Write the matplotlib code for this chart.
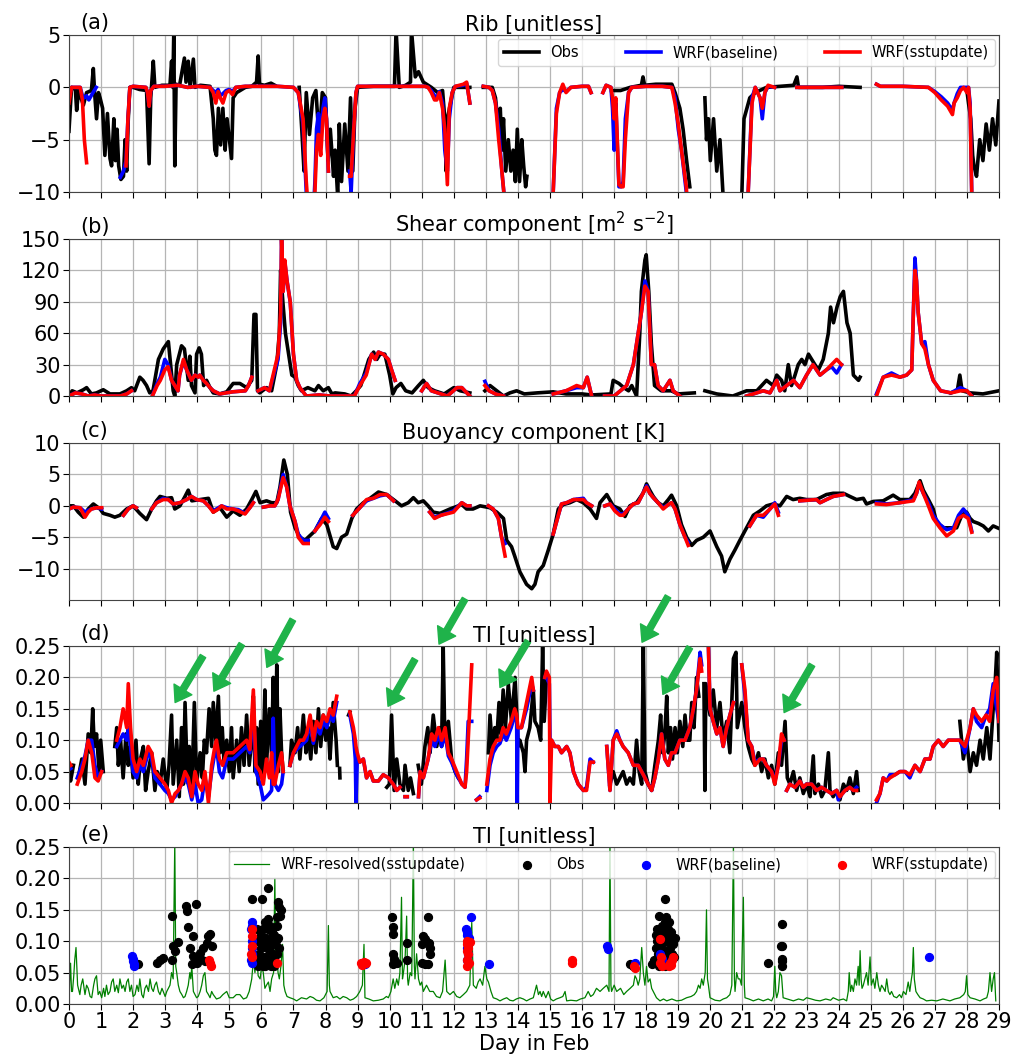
import numpy as np
import matplotlib
matplotlib.use('Agg')
import matplotlib.pyplot as plt

nan = np.nan

day_ticks = list(range(0, 30))

# (day, value) pairs; nan marks a gap in the record
rib_obs = [
    (0.0, -4.2), (0.08, 0), (0.2, -0.2), (0.24, -2.2), (0.3, -0.3), (0.45, -1.7), (0.55, -0.5),
    (0.7, -0.3), (0.76, 1.8), (0.8, -0.5), (0.86, -3), (0.92, -0.5), (0.97, -1), (1.05, -2),
    (1.12, -6.5), (1.2, -2.5), (1.28, -6.8), (1.33, -7.5), (1.4, -3), (1.45, -7), (1.5, -4),
    (1.55, -7.5), (1.62, -8.8), (1.7, -8.5), (1.75, -5), (1.8, -8), (1.85, -3), (1.9, 0),
    (2.0, 0), (2.2, -0.2), (2.42, -0.3), (2.5, -7.3), (2.55, -1), (2.63, 2.5), (2.68, 0),
    (2.9, 0.2), (3.15, 0.2), (3.2, 2.5), (3.24, 0), (3.27, 5.5), (3.3, -7.5), (3.34, 0.3),
    (3.45, 0.2), (3.6, 2.8), (3.65, 0.5), (3.72, 2.5), (3.78, 0), (3.88, 2.7), (3.93, 0),
    (4.1, 0.2), (4.4, 0.1), (4.5, -3), (4.55, -6), (4.6, -6.5), (4.66, -2), (4.73, -5.5),
    (4.8, -2), (4.87, -6), (4.93, -3), (5.07, -6.8), (5.12, -1), (5.23, -0.5), (5.5, 0),
    (5.7, 0.1), (5.85, 0.5), (5.9, 3), (5.94, 0.3), (6.1, 0.2), (6.3, 0.4), (6.42, 0.2), (6.45, nan),
    (7.18, 0), (7.26, -4), (7.33, -8), (7.4, -0.5), (7.5, -4.5), (7.6, -1), (7.7, -0.3),
    (7.8, -5), (7.9, -0.5), (8.0, -1), (8.08, -7), (8.15, -4), (8.25, -8.5), (8.3, -6),
    (8.38, -10.5), (8.43, -3.5), (8.5, -9), (8.6, -3.5), (8.7, -8), (8.78, -1), (8.85, -8),
    (8.92, -2), (9.0, 0), (9.5, 0.1), (10.15, 0.1), (10.2, 5.5), (10.3, 0), (10.5, 0.2),
    (10.65, 0.5), (10.68, 5.5), (10.8, 1), (10.9, 1.5), (11.05, 0.5), (11.3, 0), (11.5, -0.5),
    (11.65, -0.3), (11.72, -3), (11.76, -8), (11.8, -3), (11.9, -1.5), (12.0, 0), (12.5, 0), (12.55, nan),
    (12.92, 0), (13.2, 0), (13.3, -1), (13.4, -4), (13.45, -2), (13.5, -6), (13.55, -3),
    (13.62, -8), (13.7, -5), (13.78, -8), (13.85, -6), (13.92, -9), (13.98, -4), (14.05, -9),
    (14.12, -5), (14.18, -7.5), (14.24, -9.5), (14.28, -8.5), (14.3, nan),
    (16.92, -0.3), (17.2, -0.3), (17.5, 0), (17.85, 0.2), (17.9, 1), (17.95, 0.2), (18.3, 0.3),
    (18.8, 0.3), (18.9, -0.5), (19.05, -2), (19.15, -4), (19.26, -7), (19.36, -9.5), (19.4, nan),
    (19.83, -1), (19.88, -5), (19.94, -3), (20.0, -7), (20.1, -3), (20.2, -8), (20.3, -5),
    (20.4, -10.5), (20.5, -10.5), (20.55, nan),
    (20.98, -10.5), (21.05, -3), (21.23, -1), (21.4, -0.5), (21.75, 0), (22.6, 0.2), (22.7, 1),
    (22.75, 0), (23.5, 0), (24.0, 0.1), (24.67, 0), (24.7, nan),
    (28.0, -0.3), (28.05, -1.5), (28.12, -3), (28.18, -6.5), (28.22, -7.5), (28.3, -8.5),
    (28.4, -5), (28.5, -7), (28.6, -3.5), (28.7, -6), (28.8, -3), (28.9, -5.5), (29.0, -1.3),
]

# (day, baseline, sstupdate)
rib_wrf = [
    (0.0, -1.0, -1.5), (0.08, 0, 0), (0.35, 0, 0), (0.42, -0.8, -1.2), (0.48, -1.0, -5.0),
    (0.55, -0.8, -7.2), (0.62, -1.2, nan), (0.75, -0.5, nan), (0.85, 0, nan), (0.9, nan, nan),
    (1.6, -8.6, nan), (1.7, -8.0, nan), (1.78, -7.0, -7.5), (1.84, -3.0, -3.0), (1.9, 0, 0),
    (2.0, 0.1, 0.1), (2.4, 0, 0), (2.45, -0.5, -0.5), (2.5, -1.8, -1.8), (2.55, -0.3, -0.3),
    (2.65, 0.1, 0.1), (3.0, 0.1, 0.1), (3.4, 0.2, 0.2), (3.7, 0, 0), (4.0, 0.1, 0.1),
    (4.4, 0, 0), (4.5, -0.3, -0.5), (4.58, -0.5, -1.5), (4.65, -0.2, -0.4), (4.72, -0.8, -1.0),
    (4.8, -0.6, -1.5), (4.9, -0.3, -0.5), (5.0, -0.2, -0.3), (5.1, -0.4, -0.7), (5.2, 0, 0),
    (5.5, 0.1, 0.1), (6.0, 0.1, 0.1), (6.5, 0.1, 0.1), (7.0, 0, 0), (7.15, -0.5, -0.5),
    (7.3, -3.5, -3.0), (7.4, -10, -9), (7.47, -12, -12), (7.62, -12, -12), (7.67, -9, -10),
    (7.72, -4, -6), (7.78, -2.5, -4.5), (7.85, -5, -6.5), (7.92, -2, -3), (7.98, -1, -2),
    (8.03, -3, -3), (8.09, -8, -8), (8.1, nan, nan),
    (8.75, -8, -8.5), (8.8, -10, -8.5), (8.88, -4, -4), (8.95, -0.5, -0.5), (9.0, 0.1, 0.1),
    (10.0, 0.1, 0.1), (11.1, 0.1, 0.1), (11.2, 0, 0), (11.3, -0.3, -0.5), (11.4, -0.8, -1.2),
    (11.47, -1, -1.2), (11.55, -0.4, -0.5), (11.65, -1.5, -2), (11.72, -6, -4), (11.8, -8, -9.3),
    (11.86, -3, -2), (11.95, -0.5, -0.5), (12.05, 0.1, 0.1), (12.3, 0.2, 0.3), (12.4, 0.4, 0.5),
    (12.45, -0.5, -0.5), (12.5, -1.5, -1.5), (12.52, nan, nan),
    (12.92, 0.1, 0.1), (13.1, 0, 0), (13.2, -0.3, -0.3), (13.3, -1.5, -1.5), (13.4, -4, -5),
    (13.5, -8, -8), (13.56, -10, -10), (13.6, -12, -12), (13.62, nan, nan),
    (15.05, -12, -12), (15.1, -10, -10), (15.2, -2, -2.5), (15.3, -0.5, -0.5), (15.4, -0.2, 0.3),
    (15.5, -0.4, -0.5), (15.65, 0, 0), (16.0, 0.1, 0.1), (16.2, 0.1, 0.1), (16.28, -0.5, -0.5),
    (16.3, nan, nan),
    (16.65, -0.5, -0.5), (16.75, 0.2, 0.2), (16.9, 0, 0), (16.95, -2, -1), (17.0, -6, -3),
    (17.05, -1.5, -1), (17.15, -9.5, -9.3), (17.22, -9.5, -9.5), (17.28, -9, -9.5), (17.35, -3, -5),
    (17.45, -0.5, -0.5), (17.55, 0, 0), (18.0, 0.1, 0.1), (18.5, 0.1, 0.1), (18.8, 0, 0),
    (18.9, -1, -1.5), (19.0, -4, -3.5), (19.1, -6, -6), (19.25, -10, -9.5), (19.3, -12, -12),
    (19.32, nan, nan),
    (21.12, -12, -12), (21.18, -10, -10), (21.3, -1, -1.5), (21.4, 0, 0), (21.55, -1, -1),
    (21.62, -3, -2), (21.7, -0.5, -0.5), (21.8, 0.1, 0.2), (22.0, 0, 0), (22.1, nan, nan),
    (22.7, 0, 0), (23.5, 0, 0), (24.1, 0, 0), (24.15, nan, nan),
    (25.18, 0.3, 0.3), (25.3, 0.1, 0.1), (26.0, 0.1, 0.1), (26.8, 0, 0), (27.0, -0.4, -0.5),
    (27.2, -0.9, -1.2), (27.4, -1.5, -1.8), (27.55, -2.2, -2.6), (27.6, -1.5, -1.5),
    (27.7, -0.6, -1), (27.8, 0, -0.3), (27.9, 0, 0), (28.0, 0, -0.5), (28.05, 0, 0),
    (28.1, -1.5, -2), (28.15, -10, -10), (28.17, -12, -12),
]

shear_obs = [
    (0.0, 0), (0.1, 5), (0.25, 3), (0.45, 6), (0.55, 8), (0.7, 2), (0.86, 3), (1.07, 6),
    (1.28, 2), (1.59, 2), (1.8, 5), (1.95, 8), (2.05, 5), (2.21, 18), (2.31, 15), (2.42, 10),
    (2.52, 3), (2.62, 5), (2.79, 35), (2.94, 45), (3.1, 52), (3.2, 20), (3.25, 5), (3.3, 0),
    (3.36, 30), (3.51, 48), (3.6, 45), (3.72, 15), (3.77, 38), (3.82, 10), (3.93, 3), (3.98, 40),
    (4.06, 46), (4.13, 40), (4.2, 10), (4.29, 15), (4.4, 8), (4.5, 3), (4.7, 2), (4.92, 4),
    (5.12, 12), (5.33, 12), (5.54, 8), (5.7, 15), (5.77, 78), (5.83, 78), (5.88, 5), (5.95, 3),
    (6.16, 8), (6.32, 5), (6.48, 30), (6.56, 60), (6.6, 120), (6.67, 90), (6.75, 60), (6.85, 40),
    (6.95, 20), (7.05, 18), (7.15, 10), (7.25, 5), (7.45, 8), (7.67, 5), (7.78, 10), (7.93, 5),
    (8.09, 8), (8.2, 2), (8.3, 3), (8.6, 2), (8.8, 0), (8.96, 5), (9.1, 10), (9.2, 20),
    (9.35, 35), (9.5, 42), (9.6, 35), (9.7, 40), (9.85, 40), (10.0, 20), (10.1, 2), (10.2, 8),
    (10.35, 12), (10.5, 5), (10.7, 3), (10.9, 10), (11.05, 15), (11.2, 8), (11.4, 5), (11.7, 2),
    (12.0, 8), (12.2, 5), (12.5, 3), (12.6, nan),
    (12.97, 5), (13.13, 10), (13.34, 5), (13.55, 0), (13.75, 3), (13.96, 5), (14.2, 2),
    (14.6, 3), (15.1, 4), (15.5, 2), (16.0, 2), (16.3, 1), (16.9, 2), (16.97, 15), (17.15, 12),
    (17.3, 8), (17.45, 5), (17.55, 10), (17.7, 0), (17.8, 60), (17.85, 100), (17.96, 130),
    (18.0, 135), (18.08, 100), (18.16, 50), (18.26, 10), (18.47, 5), (18.78, 5), (18.99, 2),
    (19.5, 3), (19.55, nan),
    (19.83, 5), (20.2, 2), (20.7, 0), (21.13, 5), (21.45, 5), (21.75, 15), (21.96, 10),
    (22.07, 20), (22.22, 15), (22.32, 5), (22.43, 30), (22.53, 10), (22.64, 20), (22.74, 30),
    (22.85, 35), (22.95, 30), (23.06, 40), (23.16, 35), (23.26, 30), (23.37, 25), (23.52, 35),
    (23.68, 60), (23.75, 85), (23.84, 70), (23.95, 85), (24.05, 95), (24.15, 100), (24.26, 70),
    (24.36, 60), (24.46, 20), (24.62, 15), (24.67, 18), (24.7, nan),
    (27.5, 3), (27.7, 5), (27.78, 20), (27.85, 5), (28.1, 3), (28.5, 2), (29.0, 5),
]

shear_wrf = [
    (0.0, 0, 0), (0.2, 3, 3), (0.4, 2, 2), (0.6, 0, 0), (0.8, 1, 1), (1.0, 0, 0), (1.6, 0, 0),
    (1.8, 2, 2), (1.95, 5, 5), (2.0, nan, nan),
    (2.6, 0, 0), (2.75, 12, 10), (2.85, 18, 15), (2.99, 35, 25), (3.09, 30, 28), (3.2, 15, 15),
    (3.3, 10, 10), (3.4, 5, 5), (3.45, 20, 20), (3.57, 33, 35), (3.67, 25, 25), (3.82, 15, 15),
    (3.93, 20, 20), (4.03, 18, 18), (4.08, 20, 20), (4.19, 15, 15), (4.29, 12, 12), (4.4, 8, 8),
    (4.5, 5, 5), (4.7, 2, 2), (5.1, 4, 4), (5.5, 5, 5), (5.6, 10, 10), (5.7, 18, 18),
    (5.72, nan, nan),
    (5.9, 5, 5), (6.1, 8, 8), (6.25, 5, 5), (6.52, 35, 40), (6.6, 70, 80), (6.63, 150, 150),
    (6.68, 100, 100), (6.73, 128, 130), (6.8, 110, 110), (6.9, 90, 90), (7.0, 40, 40),
    (7.1, 15, 15), (7.2, 8, 8), (7.4, 0, 0), (7.8, 1, 1), (8.14, 0, 0), (8.9, 0, 0),
    (9.07, 12, 10), (9.27, 22, 20), (9.44, 40, 40), (9.55, 35, 35), (9.65, 42, 42),
    (9.8, 40, 40), (9.96, 35, 35), (10.06, 25, 25), (10.17, 15, 15), (10.2, nan, nan),
    (11.0, 5, 5), (11.15, 12, 12), (11.3, 5, 5), (11.6, 2, 2), (11.8, 0, 0), (12.1, 8, 8),
    (12.25, 8, 8), (12.5, 0, 0), (12.55, nan, nan),
    (12.97, 14, 10), (13.1, 5, 5), (13.3, 2, 2), (13.55, 0, 0), (13.6, nan, nan),
    (15.1, 2, 2), (15.5, 5, 5), (15.83, 8, 10), (16.04, 8, 8), (16.16, 18, 18), (16.3, 0, 0),
    (16.32, nan, nan),
    (16.7, 0, 0), (17.0, 0, 0), (17.39, 10, 10), (17.6, 30, 30), (17.75, 60, 60), (17.85, 80, 80),
    (17.96, 110, 105), (18.06, 100, 100), (18.16, 30, 30), (18.26, 30, 30), (18.37, 10, 10),
    (18.53, 5, 5), (18.74, 15, 15), (18.84, 5, 5), (19.05, 0, 0), (19.1, nan, nan),
    (21.13, 0, 0), (21.34, 2, 2), (21.65, 5, 5), (21.86, 3, 3), (22.07, 15, 15), (22.17, 5, 5),
    (22.38, 10, 10), (22.59, 15, 15), (22.79, 8, 8), (23.0, 20, 20), (23.2, 30, 30),
    (23.42, 20, 20), (23.62, 25, 25), (23.78, 28, 30), (23.94, 22, 35), (24.09, 30, 30),
    (24.12, nan, nan),
    (25.18, 2, 0), (25.39, 18, 18), (25.65, 22, 20), (25.91, 18, 18), (26.12, 20, 20),
    (26.28, 25, 25), (26.33, 80, 80), (26.38, 132, 120), (26.43, 110, 110), (26.48, 80, 80),
    (26.59, 50, 50), (26.69, 52, 45), (26.8, 30, 30), (26.95, 15, 15), (27.18, 5, 5),
    (27.5, 3, 3), (27.8, 8, 5), (28.0, 5, 5), (28.15, 0, 0),
]

buoy_obs = [
    (0.0, 0), (0.14, 0), (0.29, -1), (0.45, -1.8), (0.6, -0.5), (0.76, 0.3), (0.97, -0.5),
    (1.07, -1.2), (1.28, -1.5), (1.43, -1.8), (1.59, -1.5), (1.8, -0.5), (2.0, 0), (2.21, -1.2),
    (2.42, -2.2), (2.58, -0.5), (2.73, 0.8), (2.84, 1.5), (3.05, 1.2), (3.2, 1.3), (3.3, -0.5),
    (3.46, 0), (3.62, 1.5), (3.72, 2.5), (3.83, 0.8), (4.09, 1), (4.35, 1.2), (4.5, -1),
    (4.71, -0.3), (4.92, -1.8), (5.12, -0.8), (5.33, -1.5), (5.54, -0.5), (5.7, 1), (5.83, 2.3),
    (5.96, 0.5), (6.16, 0.8), (6.32, 0.5), (6.48, 0.5), (6.58, 3), (6.7, 7.3), (6.81, 5),
    (6.91, -1), (7.05, -3.5), (7.2, -5), (7.36, -5.5), (7.46, -5), (7.67, -4), (7.88, -2),
    (8.04, -3), (8.24, -6.5), (8.35, -6.8), (8.5, -5), (8.66, -4.5), (8.82, -2), (8.97, -0.5),
    (9.18, 0.5), (9.39, 1.2), (9.65, 2.2), (9.91, 1.8), (10.17, 0.8), (10.37, 0), (10.58, 0.5),
    (10.74, 1.3), (10.89, 0.5), (11.05, 0.8), (11.2, 0), (11.36, -1), (11.57, -1.2), (11.88, -0.5),
    (12.25, 0.2), (12.4, -0.5), (12.6, -0.5), (12.82, 0), (13.13, -0.3), (13.34, -1), (13.55, -2),
    (13.65, -5.5), (13.8, -6.5), (13.9, -8), (14.06, -10.5), (14.27, -12.5), (14.43, -13.2),
    (14.53, -12.5), (14.63, -10.5), (14.79, -9.5), (14.95, -7), (15.1, -4.5), (15.26, -0.5),
    (15.41, 0.2), (15.62, 0.5), (15.83, 1), (16.04, 0.5), (16.25, -0.5), (16.45, -2),
    (16.56, 0.5), (16.77, 1.8), (16.97, 0), (17.18, -0.5), (17.34, -1.7), (17.49, 0),
    (17.7, 0.5), (17.9, 2), (18.01, 3.5), (18.11, 2.5), (18.22, 1.5), (18.37, 0.5), (18.53, 0),
    (18.69, 1), (18.79, 1.7), (18.95, 0), (19.1, -3), (19.26, -5), (19.42, -6.3), (19.57, -5.5),
    (19.78, -5), (19.99, -4), (20.2, -6.5), (20.35, -8), (20.45, -10.5), (20.61, -8.5),
    (20.77, -7), (20.92, -5.5), (21.13, -3.5), (21.34, -1.5), (21.55, -0.8), (21.75, 0),
    (21.96, 0.3), (22.17, 0), (22.38, 1.5), (22.58, 1), (22.79, 1.2), (23.0, 1), (23.31, 1),
    (23.62, 1.8), (23.83, 2), (24.15, 2), (24.35, 1.5), (24.56, 1), (24.77, 1.2), (24.87, 0.3),
    (25.08, 0.7), (25.39, 0.8), (25.7, 1.7), (25.91, 1), (26.22, 1), (26.38, 2), (26.54, 4),
    (26.64, 2.5), (26.8, 1), (26.95, -0.5), (27.05, -2.5), (27.26, -3.5), (27.47, -3.5),
    (27.68, -3.5), (27.84, -1.5), (27.99, -1), (28.1, -2), (28.2, -2.5), (28.36, -2.8),
    (28.51, -3.2), (28.67, -4), (28.82, -3.2), (29.0, -3.6),
]

buoy_wrf = [
    (0.0, -0.5, -0.5), (0.14, -0.2, -0.2), (0.35, -0.3, -0.3), (0.5, -1.0, -1.8), (0.6, -0.7, -1.0),
    (0.7, -0.5, -0.5), (0.86, -0.3, -0.3), (1.02, -0.5, -0.3), (1.05, nan, nan),
    (1.7, -1.5, -1.5), (1.85, -0.5, -0.5), (2.0, 0, 0), (2.1, -0.3, -0.3), (2.12, nan, nan),
    (2.58, -0.5, -0.5), (2.73, 0.5, 0.5), (2.94, 1.2, 1), (3.1, 1, 1), (3.25, 0.3, 0.3),
    (3.46, 0.5, 0.5), (3.67, 1, 1), (3.82, 1.5, 1.5), (3.98, 1, 1), (4.19, 0.8, 0.8), (4.35, 0, 0),
    (4.5, -0.8, -1), (4.66, -0.3, -0.5), (4.76, 0, 0), (4.92, -0.3, -0.5), (5.12, -0.5, -0.5),
    (5.28, -0.6, -0.8), (5.49, -1.2, -1.3), (5.64, -0.3, -0.3), (5.75, 0.5, 0.5), (5.78, nan, nan),
    (6.06, -0.2, -0.2), (6.27, 0, 0), (6.42, 0, 0), (6.52, 1, 1), (6.68, 5, 4.5), (6.79, 3, 3),
    (6.89, 0, 0), (7.05, -2.5, -2.5), (7.15, -4.5, -5), (7.3, -5.5, -6), (7.46, -5.5, -6),
    (7.5, nan, nan),
    (7.67, -4, -4), (7.83, -2.5, -3), (7.98, -1, -1.8), (8.09, -2, -2.5), (8.12, nan, nan),
    (8.85, -1.5, -1.5), (9.07, -0.3, -0.3), (9.28, 0.8, 1), (9.49, 1.2, 1.2), (9.7, 1.6, 1.8),
    (9.91, 1.8, 1.8), (10.12, 0.8, 0.8), (10.15, nan, nan),
    (11.25, -1, -1), (11.4, -1.8, -2), (11.6, -1.5, -1.5), (11.99, -0.8, -1), (12.25, 0.5, 0.5),
    (12.4, 0, 0), (12.5, 0, 0), (12.52, nan, nan),
    (13.08, 0, 0), (13.23, -0.5, -0.5), (13.39, -2, -2), (13.49, -5, -5), (13.6, -6, -8),
    (13.62, nan, nan),
    (15.1, -4.5, -4.5), (15.26, -1.5, -1.5), (15.36, 0.3, 0.3), (15.52, 0.5, 0.5), (15.73, 1, 1),
    (16.04, 1.2, 1), (16.14, 0.5, 0.5), (16.3, 0, 0), (16.32, nan, nan),
    (16.71, 0, 0), (16.87, 0.3, 0.3), (17.02, -0.5, -0.8), (17.18, -1.3, -1.5), (17.28, -1.3, -1.5),
    (17.44, -0.5, -0.5), (17.6, 0.3, 0.3), (17.75, 0.5, 0.5), (17.9, 2, 2), (18.01, 3.2, 3),
    (18.11, 2, 2), (18.22, 1.3, 1.3), (18.37, 0.5, 0.5), (18.53, -0.3, -0.5), (18.69, 0.2, 0.2),
    (18.79, 0.5, 0.5), (18.9, -0.5, -0.5), (19.05, -3, -3), (19.21, -5, -5), (19.31, -5.8, -6.3),
    (19.33, nan, nan),
    (21.23, -3.2, -3.2), (21.44, -1.5, -1.5), (21.65, -1.8, -1.5), (21.86, -0.5, -0.5),
    (22.01, 0.5, 0.3), (22.12, -1, -1.5), (22.14, nan, nan),
    (22.79, 0.8, 0.8), (23.31, 1, 1), (23.42, 0.5, 0.5), (23.62, 1, 1), (23.83, 1.5, 1.5),
    (24.15, 1.8, 1.8), (24.17, nan, nan),
    (25.18, 0.5, 0.3), (25.49, 0.3, 0.2), (25.91, 0.5, 0.5), (26.33, 1, 0.8), (26.43, 2, 2),
    (26.51, 3.5, 3.8), (26.64, 2, 2), (26.8, 0.5, 0), (26.95, -1.5, -2), (27.16, -3, -3.5),
    (27.37, -3.8, -4.8), (27.58, -3.5, -4), (27.74, -1.5, -2), (27.89, -0.5, -1.5),
    (28.04, -1.5, -2), (28.15, -4, -4.2),
]

ti_obs = [
    (0.0, .05), (0.05, .035), (0.14, .06), (0.19, nan),
    (0.29, .04), (0.4, .07), (0.5, .03), (0.6, .11), (0.68, .08), (0.74, .15), (0.79, .09),
    (0.86, .11), (0.94, .05), (0.99, .10), (1.07, .05), (1.09, nan),
    (1.43, .09), (1.49, .12), (1.54, .06), (1.61, .10), (1.69, .04), (1.78, .11), (1.85, .06),
    (1.92, .09), (2.0, .04), (2.09, .10), (2.16, .03), (2.23, .07), (2.32, .09), (2.39, .02),
    (2.47, .05), (2.58, .08), (2.68, .02), (2.75, .05), (2.84, .03), (2.94, .07), (3.05, .02),
    (3.12, .06), (3.2, .14), (3.25, .03), (3.36, .10), (3.44, .01), (3.51, .12), (3.57, .03),
    (3.62, .16), (3.69, .04), (3.75, .09), (3.83, .02), (3.91, .16), (3.98, .03), (4.09, .08),
    (4.16, .04), (4.22, .10), (4.29, .08), (4.37, .15), (4.45, .09), (4.5, .16), (4.58, .10),
    (4.66, .17), (4.71, .08), (4.78, .12), (4.84, .06), (4.92, .10), (5.0, .05), (5.07, .12),
    (5.12, .04), (5.23, .10), (5.31, .05), (5.38, .12), (5.46, .06), (5.54, .14), (5.62, .06),
    (5.7, .10), (5.75, .17), (5.8, .05), (5.85, .12), (5.9, .03), (5.98, .13), (6.04, .04),
    (6.11, .18), (6.16, .06), (6.25, .15), (6.32, .08), (6.37, .20), (6.43, .05), (6.48, .22),
    (6.53, .05), (6.58, .15), (6.63, .08), (6.68, .05), (6.7, nan),
    (6.89, .06), (6.94, .10), (7.05, .08), (7.13, .12), (7.2, .07), (7.31, .14), (7.39, .08),
    (7.46, .11), (7.54, .07), (7.62, .13), (7.7, .08), (7.78, .15), (7.85, .09), (7.93, .14),
    (8.01, .10), (8.09, .12), (8.14, .07), (8.24, .16), (8.33, .10), (8.37, .06), (8.39, nan),
    (8.44, .055), (8.45, .04), (8.47, nan),
    (8.72, .14), (8.76, .145), (8.8, nan),
    (9.91, .025), (9.99, .03), (10.06, .14), (10.14, .02), (10.22, .07), (10.32, .03),
    (10.43, .02), (10.48, .06), (10.58, .02), (10.65, .04), (10.74, .015), (10.76, nan),
    (10.89, .06), (10.99, .03), (11.1, .09), (11.19, .12), (11.26, .08), (11.36, .14),
    (11.47, .09), (11.55, .12), (11.62, .09), (11.67, .25), (11.72, .10), (11.83, .13),
    (11.93, .07), (12.04, .05), (12.14, .04), (12.17, nan),
    (13.08, .08), (13.13, .14), (13.21, .08), (13.28, .12), (13.34, .10), (13.41, .16),
    (13.47, .11), (13.54, .18), (13.61, .12), (13.7, .19), (13.8, .13), (13.91, .20),
    (14.01, .09), (14.06, .10), (14.17, .08), (14.22, .05), (14.27, .10), (14.37, .12),
    (14.48, .18), (14.53, .13), (14.63, .12), (14.71, .10), (14.77, .25), (14.82, .13),
    (14.89, .20), (14.93, nan),
    (16.87, .03), (16.97, .05), (17.08, .03), (17.18, .04), (17.28, .05), (17.39, .03),
    (17.49, .04), (17.6, .03), (17.7, .10), (17.78, .05), (17.86, .03), (17.91, .25),
    (17.96, .05), (18.06, .03), (18.17, .02), (18.27, .06), (18.38, .10), (18.45, .14),
    (18.51, .08), (18.58, .11), (18.64, .17), (18.69, .08), (18.76, .12), (18.82, .07),
    (18.9, .12), (18.97, .08), (19.05, .13), (19.14, .09), (19.21, .14), (19.28, .10),
    (19.36, .10), (19.42, .16), (19.49, .12), (19.57, .20), (19.64, .17), (19.67, nan),
    (19.8, .19), (19.83, .02), (19.86, .19), (19.99, .14), (20.09, .18), (20.2, .12),
    (20.3, .16), (20.4, .10), (20.51, .13), (20.61, .08), (20.72, .23), (20.8, .24),
    (20.84, .12), (20.98, .16), (21.08, .12), (21.18, .09), (21.29, .07), (21.39, .06),
    (21.5, .08), (21.6, .05), (21.7, .07), (21.81, .04), (21.91, .06), (22.01, .03),
    (22.12, .08), (22.22, .06), (22.33, .13), (22.4, .04), (22.48, .03), (22.59, .05),
    (22.69, .02), (22.79, .04), (22.9, .015), (23.0, .03), (23.11, .01), (23.21, .075),
    (23.26, .015), (23.37, .03), (23.47, .01), (23.57, .02), (23.68, .08), (23.73, .02),
    (23.83, .01), (23.94, .02), (24.04, .005), (24.15, .03), (24.25, .02), (24.35, .04),
    (24.46, .015), (24.56, .05), (24.61, .02), (24.63, nan),
    (27.78, .13), (27.89, .07), (27.99, .10), (28.1, .05), (28.2, .08), (28.3, .06),
    (28.41, .10), (28.51, .07), (28.62, .12), (28.72, .07), (28.82, .15), (28.88, .19),
    (28.93, .24), (29.0, .10),
]

ti_wrf = [
    (0.0, .06, .065), (0.06, .055, .06), (0.08, nan, nan),
    (0.26, .04, .03), (0.4, .06, .05), (0.5, .075, .07), (0.6, .1, .1), (0.71, .1, .08),
    (0.81, .06, .04), (0.91, .04, .035), (1.02, .05, .05), (1.04, nan, nan),
    (1.49, .09, .1), (1.59, .1, .12), (1.69, .11, .15), (1.8, .1, .12), (1.85, .12, .19),
    (1.92, .09, .12), (2.0, .05, .07), (2.11, .04, .05), (2.21, .06, .07), (2.32, .05, .06),
    (2.47, .08, .09), (2.58, .07, .08), (2.68, .04, .05), (2.84, .03, .04), (2.99, .02, .03),
    (3.1, .015, .02), (3.2, .005, 0), (3.31, .01, .015), (3.41, .02, .02), (3.51, .03, .03),
    (3.62, .04, .05), (3.72, .03, .04), (3.83, .005, .01), (3.93, .03, .05), (4.03, 0, .03),
    (4.14, .005, .02), (4.24, .04, .05), (4.35, .01, 0), (4.45, .05, .06), (4.55, .08, .09),
    (4.6, .09, .1), (4.69, .05, .07), (4.79, .04, .06), (4.92, .07, .08), (5.12, .07, .08),
    (5.33, .08, .09), (5.54, .09, .1), (5.64, .08, .085), (5.75, .15, .18), (5.83, .05, .06),
    (5.96, .03, .05), (6.06, .005, .03), (6.16, .01, .07), (6.25, .015, .04), (6.32, .02, .08),
    (6.37, .135, .03), (6.42, .03, .03), (6.53, .02, .06), (6.63, .03, .08), (6.68, .05, .05),
    (6.7, nan, nan),
    (6.89, .06, .06), (7.0, .08, .08), (7.1, .085, .09), (7.2, .09, .1), (7.31, .095, .1),
    (7.41, .1, .11), (7.52, .13, .14), (7.62, .095, .1), (7.72, .12, .13), (7.83, .11, .12),
    (7.93, .13, .14), (8.04, .12, .13), (8.14, .14, .15), (8.24, .13, .14), (8.35, .16, .17),
    (8.37, nan, nan),
    (8.76, .14, .145), (8.87, .11, .12), (8.93, .07, .1), (8.95, 0, .09), (8.99, .07, .08),
    (9.07, .065, .065), (9.18, .07, .07), (9.28, .04, .04), (9.39, .05, .05), (9.49, .035, .035),
    (9.65, .035, .035), (9.8, .045, .045), (9.96, .04, .04), (10.11, .03, .03), (10.22, .02, .02),
    (10.32, .025, .025), (10.35, nan, nan),
    (10.48, .01, .01), (10.55, .01, .01), (10.57, nan, nan),
    (10.9, .01, .01), (10.95, .05, .05), (11.05, .04, .04), (11.2, .07, .07), (11.31, .1, .11),
    (11.41, .09, .1), (11.52, .11, .12), (11.62, .09, .1), (11.73, .11, .12), (11.83, .075, .08),
    (11.93, .065, .07), (12.09, .045, .05), (12.25, .03, .03), (12.35, .025, .025),
    (12.4, .07, .05), (12.45, .13, .1), (12.56, .13, .22), (12.58, nan, nan),
    (12.71, .005, .005), (12.81, .01, .008), (12.83, nan, nan),
    (13.03, .02, .03), (13.13, .06, .07), (13.23, .08, .09), (13.34, .09, .1), (13.44, .095, .1),
    (13.54, .11, .12), (13.64, .1, .11), (13.79, .12, .13), (13.9, .14, .15), (13.96, .13, .14),
    (13.98, 0, .13), (14.0, .12, .12), (14.11, .12, .12), (14.27, .15, .16), (14.43, .19, .2),
    (14.48, .18, .18), (14.53, nan, nan),
    (14.84, .2, .2), (14.89, .2, .21), (14.98, .19, .2), (15.0, .1, 0), (15.05, .1, .1),
    (15.15, .09, .09), (15.26, .09, .09), (15.36, .08, .08), (15.52, .09, .09), (15.62, .08, .08),
    (15.73, .05, .05), (15.88, .03, .03), (16.04, .02, .02), (16.14, .025, .02), (16.25, .07, .065),
    (16.35, .065, .065), (16.37, nan, nan),
    (16.77, .09, .09), (16.87, .02, .02), (16.97, .1, .1), (17.08, .115, .11), (17.18, .1, .1),
    (17.28, .09, .09), (17.44, .08, .08), (17.6, .06, .06), (17.75, .06, .06), (17.91, .045, .045),
    (18.06, .03, .03), (18.17, .02, .02), (18.27, .04, .04), (18.38, .07, .07), (18.48, .11, .11),
    (18.58, .07, .07), (18.69, .06, .06), (18.79, .08, .08), (18.9, .08, .08), (19.05, .1, .1),
    (19.21, .1, .1), (19.36, .12, .12), (19.47, .15, .15), (19.57, .18, .18), (19.68, .24, .23),
    (19.73, .22, .21), (19.75, nan, nan),
    (19.94, .25, .25), (19.99, .15, .15), (20.09, .13, .13), (20.2, .11, .11), (20.3, .12, .12),
    (20.4, .09, .09), (20.51, .12, .12), (20.61, .14, .14), (20.72, .16, .16), (20.74, nan, nan),
    (20.98, .22, .22), (21.08, .17, .18), (21.18, .1, .1), (21.29, .09, .09), (21.39, .065, .06),
    (21.55, .07, .07), (21.65, .07, .07), (21.75, .06, .06), (21.91, .05, .05), (22.01, .035, .03),
    (22.12, .06, .06), (22.22, .1, .11), (22.3, .1, .1), (22.33, nan, nan),
    (22.38, .02, .02), (22.48, .03, .03), (22.64, .025, .025), (22.79, .035, .035),
    (22.9, .025, .025), (23.0, .03, .03), (23.16, .03, .03), (23.31, .02, .02), (23.47, .025, .025),
    (23.62, .02, .02), (23.78, .015, .015), (23.94, .02, .02), (23.99, .005, .015), (24.04, .01, .01),
    (24.2, .02, .02), (24.35, .025, .025), (24.46, .02, .02), (24.56, .025, .02), (24.58, nan, nan),
    (25.18, 0, .005), (25.29, .015, .015), (25.39, .04, .04), (25.5, .035, .035), (25.6, .045, .04),
    (25.76, .045, .045), (25.91, .05, .05), (26.07, .05, .05), (26.22, .04, .045), (26.38, .06, .06),
    (26.54, .05, .05), (26.69, .07, .07), (26.85, .07, .07), (26.95, .09, .09), (27.11, .1, .1),
    (27.26, .09, .09), (27.42, .1, .1), (27.58, .1, .1), (27.78, .1, .1), (27.94, .08, .09),
    (28.1, .12, .12), (28.2, .15, .15), (28.3, .13, .14), (28.46, .12, .13), (28.6, .14, .14),
    (28.71, .15, .13), (28.82, .19, .18), (28.93, .15, .2), (29.0, .13, .13),
]

# green arrows in panel (d): (tip day, tip TI, tail day, tail TI)
arrows_d = [
    (3.31, 0.160, 4.18, 0.234), (4.52, 0.178, 5.39, 0.253), (6.17, 0.216, 6.98, 0.292),
    (9.95, 0.154, 10.79, 0.229), (11.54, 0.253, 12.35, 0.325), (13.44, 0.184, 14.31, 0.258),
    (17.87, 0.256, 18.68, 0.329), (18.52, 0.173, 19.36, 0.248), (22.30, 0.144, 23.17, 0.220),
]

resolved_ti = [
    (0.0, .01), (0.05, .065), (0.08, .02), (0.11, .02), (0.15, .045), (0.18, .07), (0.22, .09),
    (0.27, .03), (0.34, .015), (0.38, .03), (0.43, .04), (0.5, .015), (0.55, .03), (0.6, .025),
    (0.66, .012), (0.71, .01), (0.77, .03), (0.81, .04), (0.86, .045), (0.91, .015), (0.96, .02),
    (1.02, .01), (1.08, .025), (1.12, .012), (1.17, .03), (1.22, .015), (1.28, .02), (1.33, .035),
    (1.38, .04), (1.43, .02), (1.49, .03), (1.54, .018), (1.59, .04), (1.65, .025), (1.7, .03),
    (1.75, .02), (1.8, .035), (1.85, .04), (1.9, .02), (1.95, .03), (2.0, .012), (2.06, .015),
    (2.12, .03), (2.17, .02), (2.21, .04), (2.27, .015), (2.32, .01), (2.37, .025), (2.42, .03),
    (2.48, .02), (2.53, .04), (2.58, .025), (2.63, .02), (2.68, .03), (2.73, .035), (2.79, .02),
    (2.84, .015), (2.9, .025), (2.94, .02), (3.0, .012), (3.05, .02), (3.1, .025), (3.15, .03),
    (3.2, .05), (3.25, .04), (3.3, .26), (3.33, .06), (3.36, .05), (3.41, .03), (3.46, .02),
    (3.52, .015), (3.57, .01), (3.62, .012), (3.67, .02), (3.72, .03), (3.77, .05), (3.8, .04),
    (3.83, .06), (3.88, .02), (3.93, .015), (3.98, .01), (4.03, .012), (4.09, .02), (4.14, .03),
    (4.19, .045), (4.24, .05), (4.29, .02), (4.35, .015), (4.4, .01), (4.45, .02), (4.5, .015),
    (4.6, .008), (4.71, .01), (4.8, .015), (4.92, .02), (5.0, .01), (5.12, .01), (5.22, .015),
    (5.33, .015), (5.44, .008), (5.54, .01), (5.62, .02), (5.7, .04), (5.75, .07), (5.8, .05),
    (5.85, .08), (5.9, .045), (5.96, .04), (6.01, .06), (6.06, .05), (6.11, .025), (6.16, .03),
    (6.22, .035), (6.27, .02), (6.32, .04), (6.38, .05), (6.42, .2), (6.45, .06), (6.48, .08),
    (6.52, .05), (6.56, .04), (6.61, .06), (6.66, .095), (6.7, .03), (6.74, .02), (6.8, .012),
    (6.89, .01), (7.0, .008), (7.1, .005), (7.25, .01), (7.41, .008), (7.52, .012), (7.62, .01),
    (7.72, .006), (7.83, .005), (7.95, .01), (8.05, .02), (8.09, .125), (8.12, .03), (8.14, .02),
    (8.24, .01), (8.35, .012), (8.45, .008), (8.55, .012), (8.66, .01), (8.77, .006), (8.87, .008),
    (8.97, .012), (9.07, .02), (9.15, .03), (9.2, .095), (9.23, .01), (9.35, .008), (9.49, .005),
    (9.65, .006), (9.8, .008), (9.9, .012), (9.96, .01), (10.04, .02), (10.11, .04), (10.16, .025),
    (10.22, .04), (10.27, .03), (10.32, .05), (10.37, .17), (10.4, .04), (10.43, .05), (10.48, .07),
    (10.53, .14), (10.56, .04), (10.58, .03), (10.64, .05), (10.69, .045), (10.74, .26), (10.77, .06),
    (10.79, .04), (10.84, .08), (10.9, .04), (10.95, .03), (11.0, .035), (11.05, .02), (11.1, .025),
    (11.15, .03), (11.25, .02), (11.36, .02), (11.46, .012), (11.57, .01), (11.65, .02), (11.73, .07),
    (11.78, .02), (11.88, .015), (11.99, .02), (12.09, .012), (12.19, .01), (12.3, .015), (12.4, .02),
    (12.5, .03), (12.56, .13), (12.61, .03), (12.7, .025), (12.76, .035), (12.82, .04), (12.9, .03),
    (12.97, .06), (13.03, .04), (13.08, .035), (13.16, .02), (13.23, .01), (13.34, .008),
    (13.44, .005), (13.55, .008), (13.65, .01), (13.75, .006), (13.85, .005), (13.95, .008),
    (14.06, .01), (14.17, .008), (14.27, .005), (14.38, .008), (14.48, .01), (14.53, .02),
    (14.58, .03), (14.64, .015), (14.69, .02), (14.74, .012), (14.79, .02), (14.87, .01),
    (14.95, .02), (15.02, .008), (15.1, .005), (15.2, .008), (15.31, .01), (15.4, .012),
    (15.47, .02), (15.52, .005), (15.65, .006), (15.83, .005), (15.95, .008), (16.09, .01),
    (16.14, .015), (16.19, .02), (16.27, .012), (16.35, .015), (16.45, .025), (16.56, .02),
    (16.66, .025), (16.77, .03), (16.84, .02), (16.87, .26), (16.9, .03), (16.92, .02),
    (17.0, .03), (17.08, .02), (17.2, .025), (17.3, .015), (17.39, .02), (17.5, .025),
    (17.6, .03), (17.65, .045), (17.7, .04), (17.75, .03), (17.8, .04), (17.86, .09), (17.91, .05),
    (17.96, .03), (18.01, .06), (18.06, .035), (18.12, .04), (18.17, .025), (18.22, .02),
    (18.32, .01), (18.43, .005), (18.54, .008), (18.64, .005), (18.8, .008), (18.95, .005),
    (19.1, .006), (19.26, .01), (19.4, .012), (19.5, .015), (19.57, .02), (19.63, .03),
    (19.68, .025), (19.73, .04), (19.78, .03), (19.84, .05), (19.88, .15), (19.91, .04),
    (19.94, .03), (19.99, .01), (20.15, .006), (20.3, .005), (20.4, .008), (20.51, .01),
    (20.61, .015), (20.67, .03), (20.72, .26), (20.75, .04), (20.77, .02), (20.82, .05),
    (20.87, .04), (20.92, .04), (20.97, .03), (21.03, .17), (21.06, .03), (21.08, .01),
    (21.2, .008), (21.34, .005), (21.5, .008), (21.65, .005), (21.8, .008), (21.91, .005),
    (21.97, .012), (22.01, .06), (22.04, .02), (22.07, .01), (22.12, .02), (22.17, .05),
    (22.22, .045), (22.27, .01), (22.4, .008), (22.59, .005), (22.75, .008), (22.9, .006),
    (23.0, .01), (23.15, .008), (23.28, .006), (23.42, .005), (23.6, .008), (23.75, .006),
    (23.83, .01), (24.0, .006), (24.15, .008), (24.25, .005), (24.3, .02), (24.33, .05),
    (24.37, .02), (24.41, .03), (24.46, .02), (24.51, .04), (24.56, .03), (24.61, .06),
    (24.64, .03), (24.67, .085), (24.7, .04), (24.73, .025), (24.77, .03), (24.82, .04),
    (24.87, .05), (24.92, .03), (24.98, .075), (25.02, .03), (25.08, .04), (25.13, .025),
    (25.19, .05), (25.24, .03), (25.29, .02), (25.34, .03), (25.4, .025), (25.45, .02),
    (25.5, .04), (25.55, .02), (25.6, .015), (25.65, .02), (25.72, .012), (25.81, .01),
    (25.9, .015), (25.96, .01), (26.02, .02), (26.1, .015), (26.17, .035), (26.22, .02),
    (26.27, .04), (26.3, .05), (26.33, .09), (26.36, .04), (26.41, .02), (26.47, .015),
    (26.54, .01), (26.64, .008), (26.74, .005), (26.9, .006), (27.06, .005), (27.25, .008),
    (27.47, .005), (27.62, .008), (27.78, .01), (27.9, .015), (27.95, .02), (27.99, .045),
    (28.03, .015), (28.1, .01), (28.25, .008), (28.41, .005), (28.52, .008), (28.62, .01),
    (28.67, .02), (28.72, .05), (28.77, .02), (28.82, .04), (28.86, .05), (28.9, .005),
]

obs_pts = [
    (2.16, .063), (2.73, .065), (2.84, .07), (2.94, .073), (3.2, .07), (3.22, .14), (3.25, .092),
    (3.3, .084), (3.41, .098), (3.65, .156), (3.67, .148), (3.72, .122), (3.77, .089), (3.83, .063),
    (3.88, .109), (3.88, .076), (3.95, .16), (3.98, .065), (4.09, .081), (4.09, .073), (4.19, .089),
    (4.24, .068), (4.29, .097), (4.35, .108), (4.4, .111), (4.45, .092),
    (5.7, .167), (6.01, .167), (6.22, .185), (6.53, .162), (6.56, .154), (6.5, .138), (6.22, .135),
    (5.85, .12), (5.9, .1), (5.92, .08), (5.95, .07), (5.98, .11), (6.0, .09), (6.02, .065),
    (6.05, .12), (6.08, .1), (6.1, .075), (6.12, .06), (6.15, .105), (6.18, .09), (6.2, .12),
    (6.22, .07), (6.25, .1), (6.28, .085), (6.3, .06), (6.32, .115), (6.35, .095), (6.38, .075),
    (6.4, .11), (6.42, .065), (6.45, .1), (6.48, .08), (6.5, .125), (6.52, .105), (6.55, .09),
    (6.58, .14), (6.6, .15), (5.88, .06), (6.05, .06), (6.4, .06), (6.26, .125), (6.1, .13),
    (10.06, .139), (10.09, .122), (10.09, .111), (10.11, .079), (10.15, .071), (10.09, .063),
    (10.22, .065), (10.53, .097), (10.53, .07), (11.0, .095), (11.05, .108), (11.0, .065),
    (11.1, .063), (11.21, .139), (11.24, .097), (11.26, .089), (11.26, .079), (11.19, .063),
    (11.1, .103),
    (17.49, .064), (17.59, .061), (18.17, .064), (18.25, .07), (18.3, .09), (18.32, .11),
    (18.35, .12), (18.38, .08), (18.4, .14), (18.42, .1), (18.45, .065), (18.48, .125), (18.5, .09),
    (18.52, .11), (18.55, .075), (18.58, .168), (18.6, .13), (18.62, .1), (18.63, .139),
    (18.65, .085), (18.68, .12), (18.7, .07), (18.72, .105), (18.75, .09), (18.78, .115),
    (18.8, .08), (18.82, .1), (18.85, .095), (18.88, .075), (18.9, .105), (18.4, .06), (18.6, .06),
    (18.35, .1), (18.7, .13), (18.55, .12),
    (21.8, .065), (22.25, .127), (22.25, .093), (22.2, .092), (22.22, .072), (22.25, .061),
    (22.22, .068),
]

base_pts = [
    (1.98, .076), (2.0, .072), (2.0, .068), (2.02, .064), (2.03, .061), (5.7, .13), (5.7, .125),
    (5.68, .12), (5.7, .1), (5.72, .09), (5.7, .08), (5.68, .07), (5.7, .065), (9.18, .065),
    (9.22, .063), (12.38, .12), (12.4, .115), (12.42, .11), (12.44, .1), (12.4, .09), (12.45, .08),
    (12.42, .07), (12.53, .138), (12.48, .105), (13.1, .063), (16.78, .092), (16.8, .087),
    (17.66, .065), (18.43, .08), (18.5, .072), (26.82, .075),
]

sst_pts = [
    (4.38, .07), (4.4, .065), (4.42, .06), (5.7, .12), (5.72, .108), (5.7, .092), (5.68, .08),
    (5.7, .075), (6.48, .065), (9.1, .065), (9.15, .062), (9.2, .067), (9.25, .066), (12.4, .1),
    (12.42, .095), (12.45, .09), (12.4, .085), (12.44, .08), (12.42, .07), (12.46, .065),
    (12.4, .06), (12.5, .098), (15.68, .07), (15.7, .065), (17.62, .06), (17.65, .058),
    (18.43, .104), (18.45, .075), (18.43, .065), (18.48, .06), (18.7, .06), (18.75, .065),
    (18.8, .07), (18.85, .075), (18.78, .062),
]

plt.rcParams['font.family'] = 'DejaVu Sans'
plt.rcParams['font.size'] = 15

GREEN_ARROW = '#1fb34a'
LW = 2.6


def draw_series(ax, obs, wrf):
    t, v = np.array(obs, dtype=float).T
    ax.plot(t, v, color='black', lw=LW, label='Obs')
    mt, mb, ms = np.array(wrf, dtype=float).T
    ax.plot(mt, mb, color='blue', lw=LW, label='WRF(baseline)')
    ax.plot(mt, ms, color='red', lw=LW, label='WRF(sstupdate)')


def style_axes(ax, letter, title, show_xlabels=False):
    ax.set_xlim(0, 29)
    ax.set_xticks(day_ticks)
    ax.grid(True, color='#b5b5b5', lw=0.9)
    ax.set_axisbelow(True)
    ax.tick_params(axis='both', length=4, pad=2)
    if not show_xlabels:
        ax.tick_params(labelbottom=False)
    ax.set_title(title, fontsize=15, pad=3)
    ax.text(0.012, 1.015, letter, transform=ax.transAxes, fontsize=15, va='bottom', ha='left')
    for sp in ax.spines.values():
        sp.set_color('#444444')


fig = plt.figure(figsize=(10.11, 10.62), dpi=100)
left, width, height = 0.0682, 0.9199, 0.1478
bottoms = [0.8192, 0.6271, 0.435, 0.2439, 0.0546]
axes = [fig.add_axes([left, b, width, height]) for b in bottoms]

# (a) Richardson number
ax = axes[0]
draw_series(ax, rib_obs, rib_wrf)
ax.set_ylim(-10, 5)
ax.set_yticks([-10, -5, 0, 5])
style_axes(ax, '(a)', 'Rib [unitless]')
ax.legend(loc='upper right', ncol=3, fontsize=10.5, columnspacing=3.2, handlelength=2.4,
          borderaxespad=0.3, framealpha=0.8)

# (b) shear
ax = axes[1]
draw_series(ax, shear_obs, shear_wrf)
ax.set_ylim(0, 150)
ax.set_yticks([0, 30, 60, 90, 120, 150])
style_axes(ax, '(b)', r'Shear component [m$^2$ s$^{-2}$]')

# (c) buoyancy
ax = axes[2]
draw_series(ax, buoy_obs, buoy_wrf)
ax.set_ylim(-15, 10)
ax.set_yticks([-10, -5, 0, 5, 10])
style_axes(ax, '(c)', 'Buoyancy component [K]')

# (d) TI time series with arrows
ax = axes[3]
draw_series(ax, ti_obs, ti_wrf)
ax.set_ylim(0, 0.25)
ax.set_yticks([0, 0.05, 0.10, 0.15, 0.20, 0.25])
ax.set_yticklabels(['%.2f' % v for v in [0, 0.05, 0.10, 0.15, 0.20, 0.25]])
style_axes(ax, '(d)', 'TI [unitless]')
for tx, ty, sx, sy in arrows_d:
    ax.annotate('', xy=(tx, ty), xytext=(sx, sy), annotation_clip=False,
                arrowprops=dict(facecolor=GREEN_ARROW, edgecolor=GREEN_ARROW,
                                width=4.5, headwidth=15, headlength=11))

# (e) resolved TI and scatter
ax = axes[4]
gt, gv = np.array(resolved_ti).T
ax.plot(gt, gv, color='green', lw=0.9, label='WRF-resolved(sstupdate)')
for pts, col, lab in [(obs_pts, 'black', 'Obs'), (base_pts, 'blue', 'WRF(baseline)'),
                      (sst_pts, 'red', 'WRF(sstupdate)')]:
    px, py = np.array(pts).T
    ax.scatter(px, py, s=32, color=col, label=lab, zorder=3)
ax.set_ylim(0, 0.25)
ax.set_yticks([0, 0.05, 0.10, 0.15, 0.20, 0.25])
ax.set_yticklabels(['%.2f' % v for v in [0, 0.05, 0.10, 0.15, 0.20, 0.25]])
style_axes(ax, '(e)', 'TI [unitless]', show_xlabels=True)
ax.set_xlabel('Day in Feb', fontsize=15, labelpad=1)
ax.legend(loc='upper right', ncol=4, fontsize=10.5, columnspacing=3.0, handlelength=2.4,
          borderaxespad=0.3, framealpha=0.8)

fig.savefig('out.png', dpi=100)
